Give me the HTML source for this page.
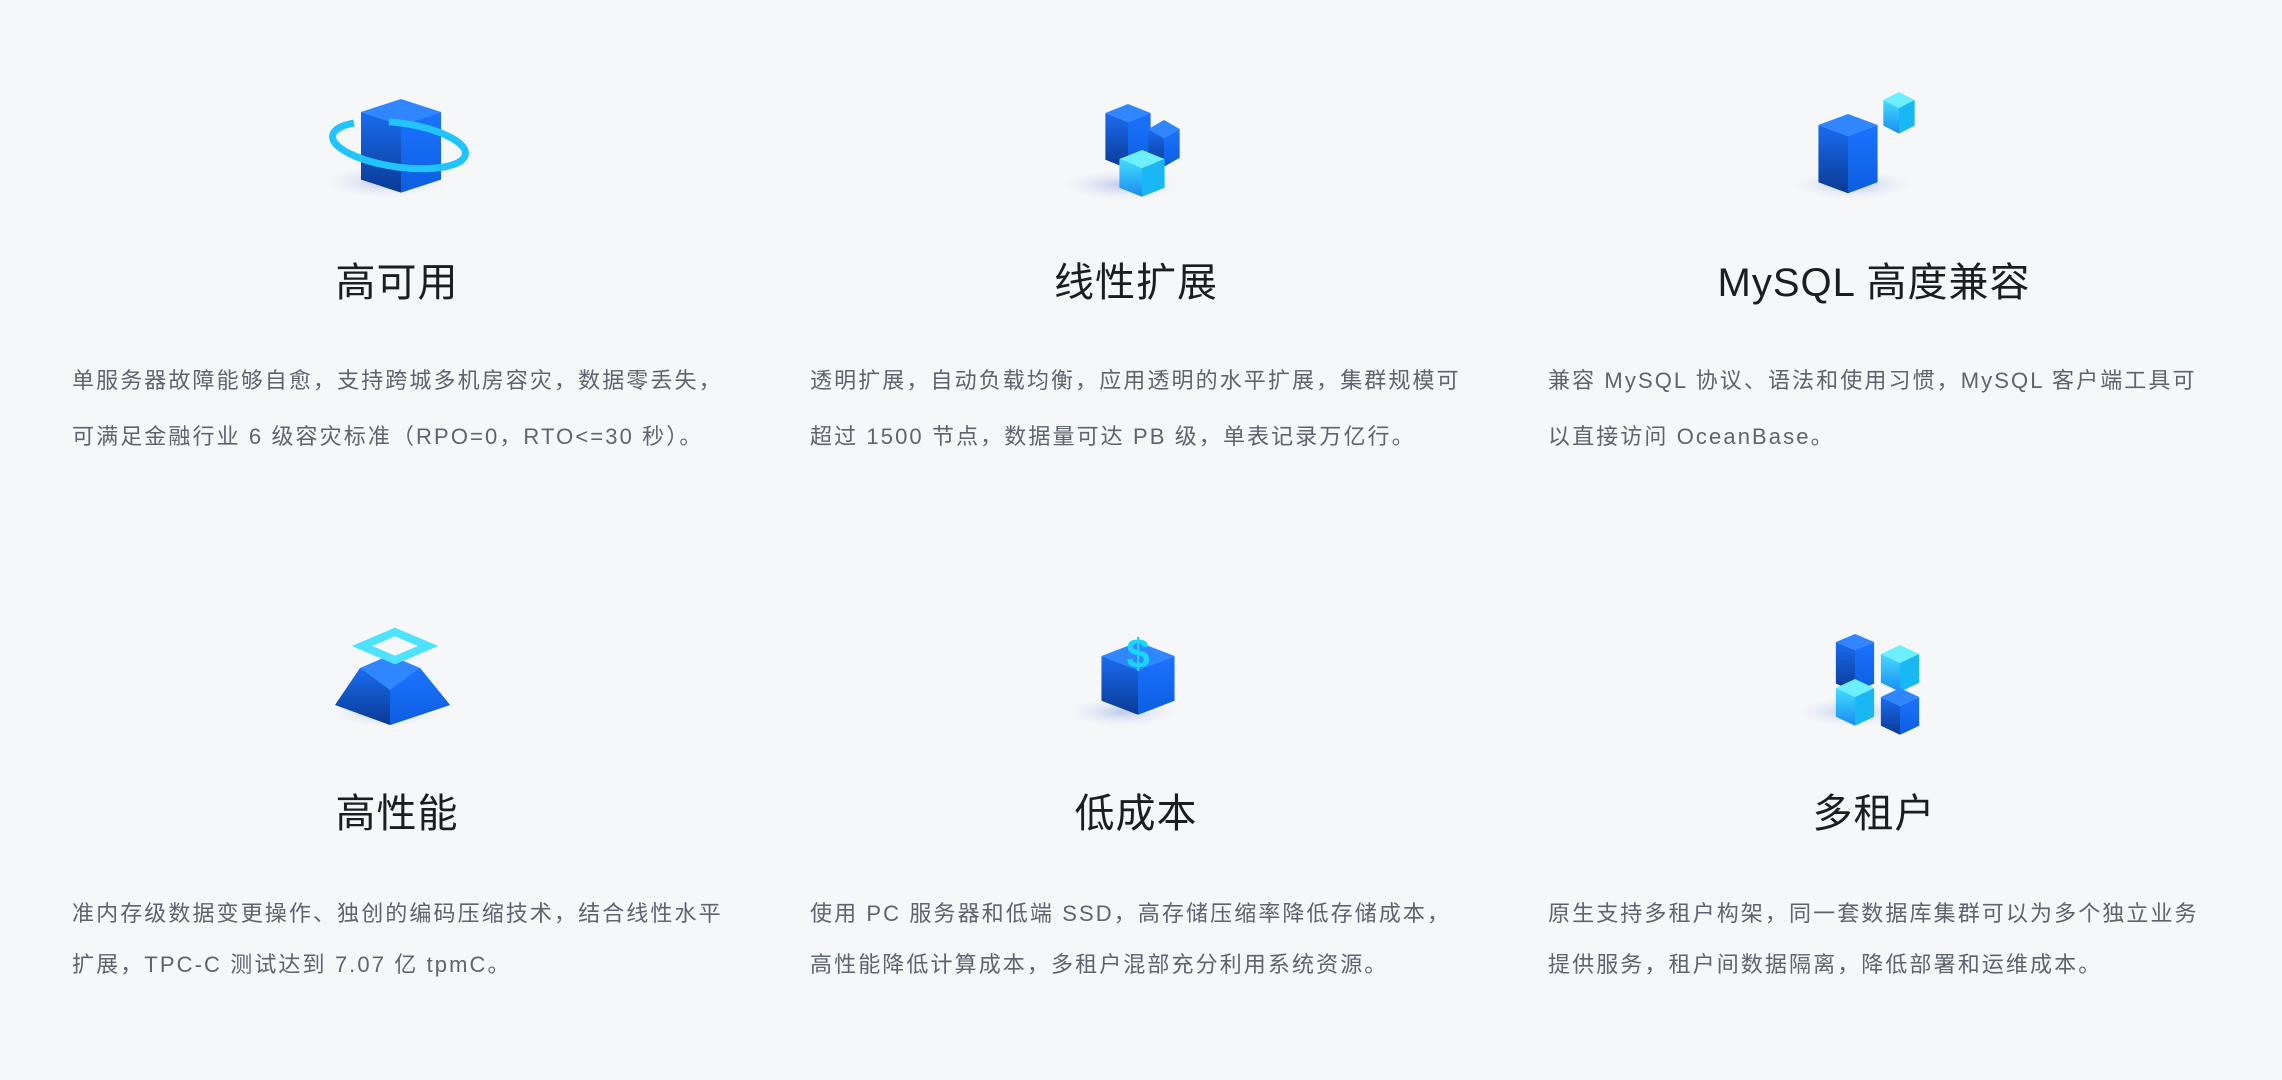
<!DOCTYPE html>
<html><head><meta charset="utf-8"><style>
html,body{margin:0;padding:0}
body{width:2282px;height:1080px;background:#f6f7f9;position:relative;overflow:hidden;font-family:"Liberation Sans","Noto Sans CJK SC",sans-serif}
.t{position:absolute;font-size:40px;color:#1b1d22;transform:translate(-50%,-50%);white-space:nowrap;letter-spacing:1px}
.p{position:absolute;font-size:22px;color:#5e636e;white-space:nowrap;letter-spacing:2.1px;line-height:30px;transform:translateY(-50%)}
svg{position:absolute;left:0;top:0}
</style></head><body>
<svg width="2282" height="1080">
<defs>
<linearGradient id="gl" x1="0" y1="0" x2="0" y2="1"><stop offset="0" stop-color="#1a6cf0"/><stop offset="1" stop-color="#0a3a94"/></linearGradient>
<linearGradient id="gr" x1="0" y1="0" x2="0" y2="1"><stop offset="0" stop-color="#1d73ff"/><stop offset="1" stop-color="#0c5ee0"/></linearGradient>
<linearGradient id="cl" x1="0" y1="0" x2="0" y2="1"><stop offset="0" stop-color="#44dcff"/><stop offset="1" stop-color="#1a8cf0"/></linearGradient>
<radialGradient id="sh"><stop offset="0" stop-color="#aebde8" stop-opacity=".8"/><stop offset="1" stop-color="#dfe5f5" stop-opacity="0"/></radialGradient>
<g id="cube"><polygon points="0,-1 0.87,-0.5 0,0 -0.87,-0.5" fill="#2f86ff"/><polygon points="-0.87,-0.5 0,0 0,1.6 -0.87,1.1" fill="url(#gl)"/><polygon points="0.87,-0.5 0,0 0,1.6 0.87,1.1" fill="url(#gr)"/></g>
<g id="tall"><polygon points="0,-1 0.87,-0.5 0,0 -0.87,-0.5" fill="#2f86ff"/><polygon points="-0.87,-0.5 0,0 0,2.6 -0.87,2.1" fill="url(#gl)"/><polygon points="0.87,-0.5 0,0 0,2.6 0.87,2.1" fill="url(#gr)"/></g>
<g id="ccube"><polygon points="0,-1 0.87,-0.5 0,0 -0.87,-0.5" fill="#6cf0ff"/><polygon points="-0.87,-0.5 0,0 0,1.6 -0.87,1.1" fill="url(#cl)"/><polygon points="0.87,-0.5 0,0 0,1.6 0.87,1.1" fill="#19b8f5"/></g>
</defs>
<!-- icon1 -->
<ellipse cx="385" cy="182" rx="60" ry="16" fill="url(#sh)"/>
<use href="#tall" transform="translate(401,125) scale(46,26)"/>
<ellipse cx="399" cy="145" rx="67" ry="22" fill="none" stroke="#22c4ff" stroke-width="7" stroke-dasharray="175 35 400" transform="rotate(8 399 145)"/>
<!-- icon2 -->
<ellipse cx="1122" cy="185" rx="60" ry="15" fill="url(#sh)"/>
<use href="#tall" transform="translate(1128,122) scale(26,18)"/>
<use href="#cube" transform="translate(1164,138) scale(18,18)"/>
<use href="#ccube" transform="translate(1142,168) scale(26,18)"/>
<!-- icon3 -->
<ellipse cx="1852" cy="185" rx="60" ry="15" fill="url(#sh)"/>
<use href="#tall" transform="translate(1848,136) scale(34,22)"/>
<use href="#ccube" transform="translate(1899,108) scale(18,16)"/>
<!-- icon4 -->
<ellipse cx="385" cy="712" rx="55" ry="15" fill="url(#sh)"/>
<polygon points="360,668 420,668 450,705 390,725 335,705" fill="url(#gl)"/>
<polygon points="390,690 420,668 450,705 390,725" fill="url(#gr)"/>
<polygon points="360,668 390,655 420,668 390,690" fill="#2f86ff"/>
<polygon points="395,632 428,646 395,660 362,646" fill="none" stroke="#4de3ff" stroke-width="8"/>
<!-- icon5 -->
<ellipse cx="1122" cy="712" rx="55" ry="15" fill="url(#sh)"/>
<use href="#cube" transform="translate(1138,670) scale(42,28)"/>
<text x="1138" y="668" font-size="42" font-weight="bold" fill="#18d6ff" text-anchor="middle" font-family="Liberation Sans,sans-serif">$</text>
<!-- icon6 -->
<ellipse cx="1852" cy="712" rx="55" ry="15" fill="url(#sh)"/>
<use href="#tall" transform="translate(1855,650) scale(22,16)"/>
<use href="#ccube" transform="translate(1900,663) scale(22,18)"/>
<use href="#ccube" transform="translate(1855,697) scale(22,18)"/>
<use href="#cube" transform="translate(1900,706) scale(22,18)"/>
</svg>

<div class="t" style="left:397px;top:279px">高可用</div>
<div class="t" style="left:1136px;top:279px">线性扩展</div>
<div class="t" style="left:1874px;top:279px">MySQL 高度兼容</div>
<div class="t" style="left:397px;top:810px">高性能</div>
<div class="t" style="left:1136px;top:810px">低成本</div>
<div class="t" style="left:1874px;top:810px">多租户</div>

<div class="p" style="left:72px;top:381px">单服务器故障能够自愈，支持跨城多机房容灾，数据零丢失，</div>
<div class="p" style="left:72px;top:437px">可满足金融行业 6 级容灾标准（RPO=0，RTO&lt;=30 秒）。</div>
<div class="p" style="left:810px;top:381px">透明扩展，自动负载均衡，应用透明的水平扩展，集群规模可</div>
<div class="p" style="left:810px;top:437px">超过 1500 节点，数据量可达 PB 级，单表记录万亿行。</div>
<div class="p" style="left:1548px;top:381px">兼容 MySQL 协议、语法和使用习惯，MySQL 客户端工具可</div>
<div class="p" style="left:1548px;top:437px">以直接访问 OceanBase。</div>
<div class="p" style="left:72px;top:914px">准内存级数据变更操作、独创的编码压缩技术，结合线性水平</div>
<div class="p" style="left:72px;top:965px">扩展，TPC-C 测试达到 7.07 亿 tpmC。</div>
<div class="p" style="left:810px;top:914px">使用 PC 服务器和低端 SSD，高存储压缩率降低存储成本，</div>
<div class="p" style="left:810px;top:965px">高性能降低计算成本，多租户混部充分利用系统资源。</div>
<div class="p" style="left:1548px;top:914px">原生支持多租户构架，同一套数据库集群可以为多个独立业务</div>
<div class="p" style="left:1548px;top:965px">提供服务，租户间数据隔离，降低部署和运维成本。</div>
</body></html>
